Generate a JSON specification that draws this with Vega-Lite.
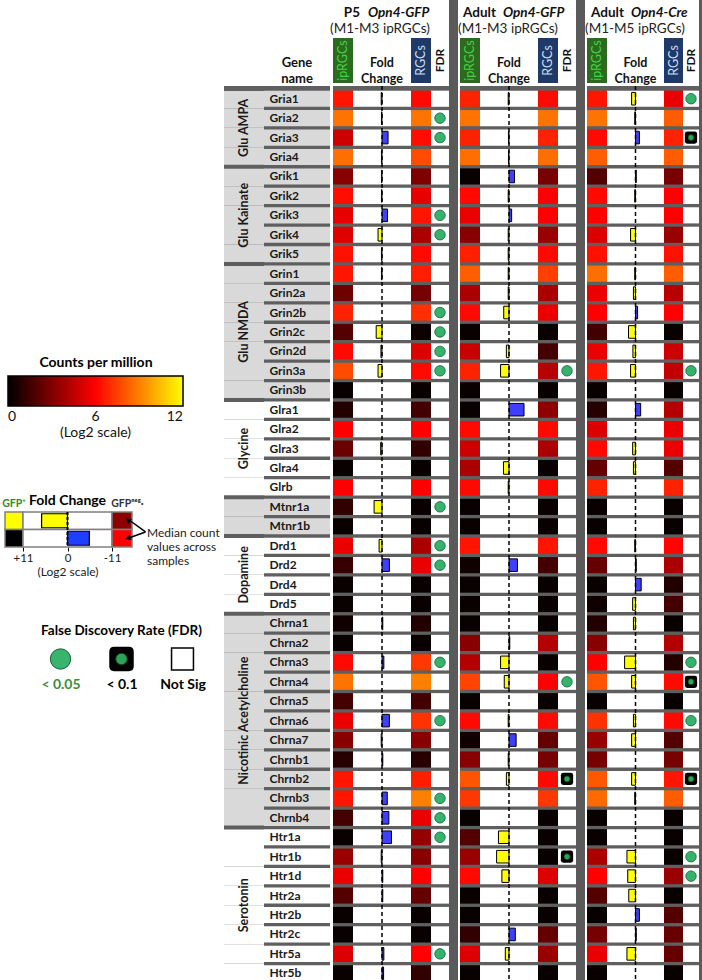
{
"$schema": "https://vega.github.io/schema/vega-lite/v6.json",
"padding": 0,
"background": "white",
"spacing": 0,
"config": {"font": "Lato", "view": {"stroke": null}, "title": {"color": "#000"}},
"datasets": {
"genes": [
{"gene":"Gria1","group":"Glu AMPA","p5ip":6.5,"p5fc":0.3,"p5rgc":6.2,"p5fdr":"NS","gip":6.8,"gfc":0.3,"grgc":6.2,"gfdr":"NS","cip":6.5,"cfc":1.5,"crgc":5.5,"cfdr":"<0.05"},
{"gene":"Gria2","group":"Glu AMPA","p5ip":8.7,"p5fc":0.2,"p5rgc":8.7,"p5fdr":"<0.05","gip":8.7,"gfc":0,"grgc":8.7,"gfdr":"NS","cip":8.7,"cfc":0.3,"crgc":8.2,"cfdr":"NS"},
{"gene":"Gria3","group":"Glu AMPA","p5ip":4.8,"p5fc":-2.3,"p5rgc":6.3,"p5fdr":"<0.05","gip":6.8,"gfc":0.2,"grgc":6.8,"gfdr":"NS","cip":6.2,"cfc":-1.5,"crgc":6.8,"cfdr":"<0.1"},
{"gene":"Gria4","group":"Glu AMPA","p5ip":8.6,"p5fc":0.2,"p5rgc":7.8,"p5fdr":"NS","gip":8.6,"gfc":0.2,"grgc":8.6,"gfdr":"NS","cip":8.2,"cfc":0,"crgc":8.2,"cfdr":"NS"},
{"gene":"Grik1","group":"Glu Kainate","p5ip":3.2,"p5fc":0.2,"p5rgc":3.0,"p5fdr":"NS","gip":0.2,"gfc":-2.1,"grgc":2.8,"gfdr":"NS","cip":2.0,"cfc":-0.3,"crgc":2.8,"cfdr":"NS"},
{"gene":"Grik2","group":"Glu Kainate","p5ip":6.3,"p5fc":0.2,"p5rgc":5.4,"p5fdr":"NS","gip":6.2,"gfc":0.3,"grgc":6.0,"gfdr":"NS","cip":6.2,"cfc":0.3,"crgc":6.0,"cfdr":"NS"},
{"gene":"Grik3","group":"Glu Kainate","p5ip":5.4,"p5fc":-2.1,"p5rgc":6.5,"p5fdr":"<0.05","gip":5.5,"gfc":-1.0,"grgc":6.0,"gfdr":"NS","cip":6.0,"cfc":0,"crgc":6.0,"cfdr":"NS"},
{"gene":"Grik4","group":"Glu Kainate","p5ip":5.3,"p5fc":1.5,"p5rgc":4.0,"p5fdr":"<0.05","gip":3.2,"gfc":0.3,"grgc":3.6,"gfdr":"NS","cip":5.2,"cfc":1.9,"crgc":3.6,"cfdr":"NS"},
{"gene":"Grik5","group":"Glu Kainate","p5ip":6.4,"p5fc":0.2,"p5rgc":6.2,"p5fdr":"NS","gip":6.7,"gfc":0.3,"grgc":6.2,"gfdr":"NS","cip":6.4,"cfc":0,"crgc":6.4,"cfdr":"NS"},
{"gene":"Grin1","group":"Glu NMDA","p5ip":6.5,"p5fc":0.2,"p5rgc":6.7,"p5fdr":"NS","gip":8.2,"gfc":0.3,"grgc":7.5,"gfdr":"NS","cip":8.6,"cfc":0.3,"crgc":8.2,"cfdr":"NS"},
{"gene":"Grin2a","group":"Glu NMDA","p5ip":2.6,"p5fc":0,"p5rgc":2.8,"p5fdr":"NS","gip":4.0,"gfc":0.3,"grgc":4.0,"gfdr":"NS","cip":5.5,"cfc":0.8,"crgc":4.3,"cfdr":"NS"},
{"gene":"Grin2b","group":"Glu NMDA","p5ip":6.8,"p5fc":0,"p5rgc":7.1,"p5fdr":"<0.05","gip":6.2,"gfc":2.0,"grgc":5.5,"gfdr":"NS","cip":6.0,"cfc":-0.8,"crgc":6.0,"cfdr":"NS"},
{"gene":"Grin2c","group":"Glu NMDA","p5ip":2.0,"p5fc":2.2,"p5rgc":0.3,"p5fdr":"<0.05","gip":0.2,"gfc":0,"grgc":0.2,"gfdr":"NS","cip":1.6,"cfc":2.7,"crgc":0.2,"cfdr":"NS"},
{"gene":"Grin2d","group":"Glu NMDA","p5ip":6.2,"p5fc":0.4,"p5rgc":5.2,"p5fdr":"<0.05","gip":4.7,"gfc":1.0,"grgc":1.6,"gfdr":"NS","cip":5.5,"cfc":1.0,"crgc":4.8,"cfdr":"NS"},
{"gene":"Grin3a","group":"Glu NMDA","p5ip":7.8,"p5fc":1.5,"p5rgc":6.2,"p5fdr":"<0.05","gip":6.8,"gfc":3.2,"grgc":4.3,"gfdr":"<0.05","cip":6.5,"cfc":1.9,"crgc":4.6,"cfdr":"<0.05"},
{"gene":"Grin3b","group":"Glu NMDA","p5ip":0.2,"p5fc":0,"p5rgc":0.2,"p5fdr":"NS","gip":0.2,"gfc":0,"grgc":0.2,"gfdr":"NS","cip":0.2,"cfc":0,"crgc":0.2,"cfdr":"NS"},
{"gene":"Glra1","group":"Glycine","p5ip":0.8,"p5fc":0,"p5rgc":1.6,"p5fdr":"NS","gip":0.2,"gfc":-5.7,"grgc":3.3,"gfdr":"NS","cip":0.9,"cfc":-2.0,"crgc":4.2,"cfdr":"NS"},
{"gene":"Glra2","group":"Glycine","p5ip":6.0,"p5fc":0,"p5rgc":6.0,"p5fdr":"NS","gip":6.2,"gfc":0,"grgc":6.2,"gfdr":"NS","cip":5.2,"cfc":0,"crgc":5.5,"cfdr":"NS"},
{"gene":"Glra3","group":"Glycine","p5ip":2.5,"p5fc":0.5,"p5rgc":1.2,"p5fdr":"NS","gip":4.8,"gfc":0,"grgc":4.0,"gfdr":"NS","cip":6.2,"cfc":1.1,"crgc":5.5,"cfdr":"NS"},
{"gene":"Glra4","group":"Glycine","p5ip":0.2,"p5fc":0,"p5rgc":0.2,"p5fdr":"NS","gip":4.0,"gfc":2.1,"grgc":0.2,"gfdr":"NS","cip":2.4,"cfc":0.8,"crgc":2.0,"cfdr":"NS"},
{"gene":"Glrb","group":"Glycine","p5ip":6.0,"p5fc":0,"p5rgc":6.0,"p5fdr":"NS","gip":6.2,"gfc":0.3,"grgc":6.2,"gfdr":"NS","cip":6.8,"cfc":0,"crgc":6.8,"cfdr":"NS"},
{"gene":"Mtnr1a","group":"","p5ip":1.2,"p5fc":3.0,"p5rgc":0.2,"p5fdr":"<0.05","gip":0.2,"gfc":0,"grgc":0.2,"gfdr":"NS","cip":0.2,"cfc":0,"crgc":0.2,"cfdr":"NS"},
{"gene":"Mtnr1b","group":"","p5ip":0.2,"p5fc":0,"p5rgc":0.2,"p5fdr":"NS","gip":0.2,"gfc":0,"grgc":0.2,"gfdr":"NS","cip":0.2,"cfc":0,"crgc":0.2,"cfdr":"NS"},
{"gene":"Drd1","group":"Dopamine","p5ip":5.5,"p5fc":1.1,"p5rgc":4.0,"p5fdr":"<0.05","gip":6.5,"gfc":0,"grgc":6.5,"gfdr":"NS","cip":6.2,"cfc":0.3,"crgc":6.1,"cfdr":"NS"},
{"gene":"Drd2","group":"Dopamine","p5ip":1.3,"p5fc":-2.8,"p5rgc":5.5,"p5fdr":"<0.05","gip":0.4,"gfc":-3.2,"grgc":1.6,"gfdr":"NS","cip":2.4,"cfc":-0.3,"crgc":4.0,"cfdr":"NS"},
{"gene":"Drd4","group":"Dopamine","p5ip":0.2,"p5fc":0,"p5rgc":0.2,"p5fdr":"NS","gip":0.2,"gfc":0,"grgc":0.2,"gfdr":"NS","cip":0.2,"cfc":-2.2,"crgc":0.8,"cfdr":"NS"},
{"gene":"Drd5","group":"Dopamine","p5ip":0.2,"p5fc":0,"p5rgc":0.2,"p5fdr":"NS","gip":0.2,"gfc":0,"grgc":0.2,"gfdr":"NS","cip":0.4,"cfc":1.1,"crgc":1.6,"cfdr":"NS"},
{"gene":"Chrna1","group":"Nicotinic Acetylcholine","p5ip":0.4,"p5fc":-0.3,"p5rgc":0.8,"p5fdr":"NS","gip":0.2,"gfc":0,"grgc":0.2,"gfdr":"NS","cip":0.8,"cfc":0.8,"crgc":0.2,"cfdr":"NS"},
{"gene":"Chrna2","group":"Nicotinic Acetylcholine","p5ip":0.2,"p5fc":0,"p5rgc":0.2,"p5fdr":"NS","gip":3.2,"gfc":-0.3,"grgc":4.2,"gfdr":"NS","cip":3.2,"cfc":0,"crgc":4.2,"cfdr":"NS"},
{"gene":"Chrna3","group":"Nicotinic Acetylcholine","p5ip":6.2,"p5fc":-0.7,"p5rgc":7.3,"p5fdr":"<0.05","gip":4.2,"gfc":3.2,"grgc":0.2,"gfdr":"NS","cip":6.0,"cfc":4.2,"crgc":0.8,"cfdr":"<0.05"},
{"gene":"Chrna4","group":"Nicotinic Acetylcholine","p5ip":8.7,"p5fc":0,"p5rgc":9.0,"p5fdr":"NS","gip":7.6,"gfc":1.8,"grgc":6.0,"gfdr":"<0.05","cip":8.0,"cfc":1.5,"crgc":6.2,"cfdr":"<0.1"},
{"gene":"Chrna5","group":"Nicotinic Acetylcholine","p5ip":1.6,"p5fc":0,"p5rgc":1.6,"p5fdr":"NS","gip":0.2,"gfc":0,"grgc":0.2,"gfdr":"NS","cip":0.2,"cfc":0,"crgc":0.2,"cfdr":"NS"},
{"gene":"Chrna6","group":"Nicotinic Acetylcholine","p5ip":5.5,"p5fc":-2.8,"p5rgc":7.2,"p5fdr":"<0.05","gip":6.2,"gfc":0.3,"grgc":6.2,"gfdr":"NS","cip":7.2,"cfc":0.8,"crgc":6.2,"cfdr":"<0.05"},
{"gene":"Chrna7","group":"Nicotinic Acetylcholine","p5ip":3.2,"p5fc":0.3,"p5rgc":3.2,"p5fdr":"NS","gip":0.4,"gfc":-2.7,"grgc":2.4,"gfdr":"NS","cip":3.6,"cfc":1.5,"crgc":2.0,"cfdr":"NS"},
{"gene":"Chrnb1","group":"Nicotinic Acetylcholine","p5ip":0.9,"p5fc":-0.3,"p5rgc":0.9,"p5fdr":"NS","gip":3.2,"gfc":0.3,"grgc":2.8,"gfdr":"NS","cip":2.8,"cfc":0,"crgc":2.8,"cfdr":"NS"},
{"gene":"Chrnb2","group":"Nicotinic Acetylcholine","p5ip":6.5,"p5fc":0,"p5rgc":6.7,"p5fdr":"NS","gip":8.0,"gfc":1.0,"grgc":6.2,"gfdr":"<0.1","cip":8.1,"cfc":1.5,"crgc":6.5,"cfdr":"<0.1"},
{"gene":"Chrnb3","group":"Nicotinic Acetylcholine","p5ip":6.5,"p5fc":-2.0,"p5rgc":9.0,"p5fdr":"<0.05","gip":7.3,"gfc":0,"grgc":7.3,"gfdr":"NS","cip":8.5,"cfc":0.3,"crgc":8.2,"cfdr":"NS"},
{"gene":"Chrnb4","group":"Nicotinic Acetylcholine","p5ip":1.6,"p5fc":-2.6,"p5rgc":5.5,"p5fdr":"<0.05","gip":0.2,"gfc":0,"grgc":0.2,"gfdr":"NS","cip":0.2,"cfc":0,"crgc":0.2,"cfdr":"NS"},
{"gene":"Htr1a","group":"Serotonin","p5ip":0.2,"p5fc":-3.6,"p5rgc":3.5,"p5fdr":"<0.05","gip":2.0,"gfc":4.0,"grgc":0.2,"gfdr":"NS","cip":0.2,"cfc":0,"crgc":0.2,"cfdr":"NS"},
{"gene":"Htr1b","group":"Serotonin","p5ip":3.6,"p5fc":0.3,"p5rgc":3.2,"p5fdr":"NS","gip":3.6,"gfc":4.7,"grgc":0.2,"gfdr":"<0.1","cip":4.0,"cfc":3.3,"crgc":0.2,"cfdr":"<0.05"},
{"gene":"Htr1d","group":"Serotonin","p5ip":5.5,"p5fc":-0.3,"p5rgc":6.0,"p5fdr":"NS","gip":6.2,"gfc":2.7,"grgc":5.2,"gfdr":"NS","cip":6.0,"cfc":3.0,"crgc":3.6,"cfdr":"<0.05"},
{"gene":"Htr2a","group":"Serotonin","p5ip":2.0,"p5fc":-0.3,"p5rgc":2.4,"p5fdr":"NS","gip":0.2,"gfc":0,"grgc":0.2,"gfdr":"NS","cip":2.0,"cfc":2.6,"crgc":0.2,"cfdr":"NS"},
{"gene":"Htr2b","group":"Serotonin","p5ip":0.2,"p5fc":0,"p5rgc":0.2,"p5fdr":"NS","gip":0.2,"gfc":0,"grgc":0.2,"gfdr":"NS","cip":0.2,"cfc":-1.5,"crgc":2.0,"cfdr":"NS"},
{"gene":"Htr2c","group":"Serotonin","p5ip":0.2,"p5fc":0,"p5rgc":0.2,"p5fdr":"NS","gip":1.2,"gfc":-2.4,"grgc":2.4,"gfdr":"NS","cip":2.8,"cfc":-0.3,"crgc":2.4,"cfdr":"NS"},
{"gene":"Htr5a","group":"Serotonin","p5ip":5.2,"p5fc":-0.7,"p5rgc":6.0,"p5fdr":"<0.05","gip":5.2,"gfc":1.4,"grgc":3.6,"gfdr":"NS","cip":5.5,"cfc":3.3,"crgc":2.4,"cfdr":"NS"},
{"gene":"Htr5b","group":"Serotonin","p5ip":0.2,"p5fc":-0.6,"p5rgc":1.2,"p5fdr":"NS","gip":0.2,"gfc":0,"grgc":0.2,"gfdr":"NS","cip":0.2,"cfc":0,"crgc":0.2,"cfdr":"NS"}
],
"flg": [{"row":"a","ip":12,"fc":6.4,"rgc":3.3},{"row":"b","ip":0,"fc":-5.4,"rgc":6}]
},
"hconcat": [
{"vconcat": [
  {"width": 222, "height": 494, "data": {"values": []}, "mark": "point"},
  {"hconcat": [
    {"width": 5, "height": 35, "data": {"values": []}, "mark": "point"},
    {"width": 18, "height": 35, "data": {"name": "flg"},
     "title": {"text": "GFP⁺", "fontSize": 10.5, "fontWeight": "bold", "color": "#2e8b2e", "offset": 2},
     "mark": {"type": "rect", "stroke": "#808080", "strokeWidth": 1.5},
     "encoding": {"y": {"field": "row", "type": "nominal", "sort": null, "axis": null, "scale": {"paddingInner": 0, "paddingOuter": 0}},
       "color": {"field": "ip", "type": "quantitative", "scale": {"domain": [0, 6, 12], "range": ["#000000", "#ff0000", "#ffff00"], "interpolate": "rgb"}}}},
    {"width": 89, "height": 35, "data": {"name": "flg"},
     "title": {"text": "Fold Change", "fontSize": 14, "fontWeight": "bold", "offset": 3},
     "layer": [
       {"mark": {"type": "rect", "color": "#ffffff", "stroke": "#808080", "strokeWidth": 1.5},
        "encoding": {"y": {"field": "row", "type": "nominal", "sort": null, "axis": null, "scale": {"paddingInner": 0, "paddingOuter": 0}}}},
       {"mark": {"type": "bar", "stroke": "#000", "strokeWidth": 1.2, "height": {"band": 0.8}},
        "encoding": {"y": {"field": "row", "type": "nominal", "sort": null, "axis": null},
          "x": {"field": "fc", "type": "quantitative", "scale": {"domain": [-11, 11], "reverse": true, "nice": false},
            "axis": {"orient": "bottom", "values": [11, 5, 0, -5, -11], "labelExpr": "datum.value > 0 ? '+' + datum.value : '' + datum.value", "labelFlush": false, "labelFontSize": 11.5, "labelColor": "#222", "labelPadding": 1, "domain": false, "grid": false, "tickColor": "#000", "tickSize": 4, "minExtent": 0, "title": "(Log2 scale)", "titleFontSize": 12, "titleFontWeight": "normal", "titleColor": "#222", "titlePadding": 3}},
          "fill": {"condition": {"test": "datum.fc > 0", "value": "#ffff00"}, "value": "#1f3fff"}}},
       {"data": {"values": [{}]}, "mark": {"type": "rule", "strokeDash": [3, 2], "strokeWidth": 2, "color": "#000"}, "encoding": {"x": {"datum": 0}}}
     ]},
    {"width": 20, "height": 35, "data": {"name": "flg"},
     "title": {"text": "GFPⁿᵉᵍ·", "fontSize": 10.5, "fontWeight": "bold", "color": "#333", "offset": 2, "anchor": "start"},
     "mark": {"type": "rect", "stroke": "#808080", "strokeWidth": 1.5},
     "encoding": {"y": {"field": "row", "type": "nominal", "sort": null, "axis": null, "scale": {"paddingInner": 0, "paddingOuter": 0}},
       "color": {"field": "rgc", "type": "quantitative", "scale": {"domain": [0, 6, 12], "range": ["#000000", "#ff0000", "#ffff00"], "interpolate": "rgb"}}}},
    {"width": 90, "height": 35, "data": {"values": [{"note": "Median count\nvalues across\nsamples"}]},
     "layer": [
       {"mark": {"type": "text", "align": "left", "baseline": "middle", "lineBreak": "\n", "fontSize": 12, "lineHeight": 14, "color": "#222"},
        "encoding": {"text": {"field": "note"}, "x": {"datum": 0.167, "scale": {"domain": [0, 1]}, "axis": null}, "y": {"datum": 0.6, "scale": {"domain": [0, 1], "reverse": true}, "axis": null}}},
       {"mark": {"type": "rule", "strokeWidth": 1.5, "color": "#000"}, "encoding": {"x": {"datum": 0.15}, "y": {"datum": 0.57}, "x2": {"datum": -0.02}, "y2": {"datum": 0.25}}},
       {"mark": {"type": "rule", "strokeWidth": 1.5, "color": "#000"}, "encoding": {"x": {"datum": 0.15}, "y": {"datum": 0.57}, "x2": {"datum": -0.02}, "y2": {"datum": 0.73}}},
       {"mark": {"type": "point", "shape": "triangle-left", "filled": true, "color": "#000", "opacity": 1, "size": 40, "angle": 35}, "encoding": {"x": {"datum": -0.044}, "y": {"datum": 0.229}}},
       {"mark": {"type": "point", "shape": "triangle-left", "filled": true, "color": "#000", "opacity": 1, "size": 40, "angle": -19}, "encoding": {"x": {"datum": -0.044}, "y": {"datum": 0.743}}}
     ]}
  ], "spacing": 0, "bounds": "flush"},
  {"width": 222, "height": 45, "data": {"values": []}, "mark": "point"},
  {"hconcat": [
    {"width": 30, "height": 30, "data": {"values": []}, "mark": "point"},
    {"width": 183, "height": 30,
     "data": {"values": [{"s": "< 0.05"}, {"s": "< 0.1"}, {"s": "Not Sig"}]},
     "title": {"text": "False Discovery Rate (FDR)", "fontSize": 13.5, "fontWeight": "bold", "offset": 7},
     "layer": [
       {"mark": {"type": "point", "shape": "square", "filled": true, "fill": "#ffffff", "stroke": "#000", "strokeWidth": 1.5, "size": 480},
        "encoding": {"x": {"field": "s", "type": "nominal", "sort": null, "scale": {"type": "point", "padding": 0.5},
           "axis": {"orient": "bottom", "title": null, "domain": false, "ticks": false, "labelAngle": 0, "labelFontSize": 14, "labelFontWeight": "bold", "labelPadding": 3, "minExtent": 0,
             "labelColor": {"condition": {"test": "datum.value == '< 0.05'", "value": "#3a8f3a"}, "value": "#000"}}},
          "opacity": {"condition": {"test": "datum.s == 'Not Sig'", "value": 1}, "value": 0}}},
       {"mark": {"type": "point", "shape": "M -1 -0.6 Q -1 -1 -0.6 -1 L 0.6 -1 Q 1 -1 1 -0.6 L 1 0.6 Q 1 1 0.6 1 L -0.6 1 Q -1 1 -1 0.6 Z", "filled": true, "color": "#000", "size": 600},
        "encoding": {"x": {"field": "s", "type": "nominal", "sort": null}, "opacity": {"condition": {"test": "datum.s == '< 0.1'", "value": 1}, "value": 0}}},
       {"mark": {"type": "circle", "strokeWidth": 1},
        "encoding": {"x": {"field": "s", "type": "nominal", "sort": null},
          "size": {"condition": {"test": "datum.s == '< 0.05'", "value": 415}, "value": 135},
          "fill": {"condition": {"test": "datum.s == '< 0.05'", "value": "#38b56c"}, "value": "#2aa455"},
          "stroke": {"condition": {"test": "datum.s == '< 0.05'", "value": "#1d5e37"}, "value": "#0c3d1f"},
          "opacity": {"condition": {"test": "datum.s == 'Not Sig'", "value": 0}, "value": 1}}}
     ]}
  ], "spacing": 0, "bounds": "flush"}
], "spacing": 0},
{"vconcat": [
  {"width": 106, "height": 38, "data": {"values": []}, "mark": "point"},
  {"hconcat": [
    {"width": 40, "height": 45, "data": {"values": []}, "mark": "point"},
    {"width": 66, "height": 45, "data": {"values": [{"h": "Gene\nname"}]},
     "mark": {"type": "text", "lineBreak": "\n", "fontWeight": "bold", "fontSize": 13, "lineHeight": 16, "baseline": "middle", "dy": 2, "color": "#111"},
     "encoding": {"text": {"field": "h"}}}
  ], "spacing": 0, "bounds": "flush"},
  {"hconcat": [
    {"width": 40, "height": 897, "data": {"name": "genes"},
     "view": {"fill": "#5f5f5f", "stroke": null},
     "transform": [
       {"window": [{"op": "row_number", "as": "k"}], "groupby": ["group"]},
       {"joinaggregate": [{"op": "count", "as": "n"}], "groupby": ["group"]}
     ],
     "layer": [
       {"mark": {"type": "rect"},
        "encoding": {"y": {"field": "gene", "type": "nominal", "axis": null, "scale": {"domain": ["Gria1","Gria2","Gria3","Gria4","Grik1","Grik2","Grik3","Grik4","Grik5","Grin1","Grin2a","Grin2b","Grin2c","Grin2d","Grin3a","Grin3b","Glra1","Glra2","Glra3","Glra4","Glrb","Mtnr1a","Mtnr1b","Drd1","Drd2","Drd4","Drd5","Chrna1","Chrna2","Chrna3","Chrna4","Chrna5","Chrna6","Chrna7","Chrnb1","Chrnb2","Chrnb3","Chrnb4","Htr1a","Htr1b","Htr1d","Htr2a","Htr2b","Htr2c","Htr5a","Htr5b"], "paddingInner": 0, "paddingOuter": 0.077, "align": 1}},
          "fill": {"field": "group", "type": "nominal", "legend": null, "scale": {"domain": ["Glu AMPA","Glu Kainate","Glu NMDA","Glycine","","Dopamine","Nicotinic Acetylcholine","Serotonin"], "range": ["#d9d9d9","#d9d9d9","#d9d9d9","#ffffff","#d9d9d9","#ffffff","#d9d9d9","#ffffff"]}}}},
       {"transform": [{"filter": "datum.k == 1"}],
        "mark": {"type": "rule", "color": "#5f5f5f", "strokeWidth": 4},
        "encoding": {"y": {"field": "gene", "type": "nominal", "bandPosition": 0}}},
       {"transform": [{"filter": "datum.group != '' && datum.n % 2 == 1 && datum.k == (datum.n + 1) / 2"}],
        "mark": {"type": "text", "angle": 270, "fontWeight": "bold", "fontSize": 12.5, "color": "#1a1a1a"},
        "encoding": {"y": {"field": "gene", "type": "nominal"}, "text": {"field": "group"}}},
       {"transform": [{"filter": "datum.group != '' && datum.n % 2 == 0 && datum.k == datum.n / 2"}],
        "mark": {"type": "text", "angle": 270, "fontWeight": "bold", "fontSize": 12.5, "color": "#1a1a1a"},
        "encoding": {"y": {"field": "gene", "type": "nominal", "bandPosition": 1}, "text": {"field": "group"}}}
     ]},
    {"width": 66, "height": 897, "data": {"name": "genes"},
     "view": {"fill": "#5f5f5f", "stroke": null},
     "mark": {"type": "rect"},
     "encoding": {
       "y": {"field": "gene", "type": "nominal", "sort": null, "scale": {"paddingInner": 0.17, "paddingOuter": 0.162, "align": 0.74},
         "axis": {"orient": "left", "title": null, "domain": false, "ticks": false, "tickSize": 0, "minExtent": 0, "labelAlign": "left", "labelBaseline": "middle", "labelPadding": -5, "labelFontSize": 12, "labelFontWeight": "bold", "labelColor": "#1a1a1a", "zindex": 1}},
       "fill": {"field": "group", "type": "nominal", "legend": null, "scale": {"domain": ["Glu AMPA","Glu Kainate","Glu NMDA","Glycine","","Dopamine","Nicotinic Acetylcholine","Serotonin"], "range": ["#d9d9d9","#d9d9d9","#d9d9d9","#ffffff","#d9d9d9","#ffffff","#d9d9d9","#ffffff"]}}}}
  ], "spacing": 0, "bounds": "flush"}
], "spacing": 0},
{"hconcat": [
  {"vconcat": [
    {"width": 116, "height": 38, "data": {"values": [{"stage": "P5", "line": "Opn4-GFP", "cells": "(M1-M3 ipRGCs)"}]},
     "layer": [
       {"mark": {"type": "text", "align": "right", "dx": -31, "dy": -6, "fontSize": 13.5, "fontWeight": "bold", "color": "#111"}, "encoding": {"text": {"field": "stage"}}},
       {"mark": {"type": "text", "align": "left", "dx": -23, "dy": -6, "fontSize": 13.5, "fontWeight": "bold", "fontStyle": "italic", "color": "#111"}, "encoding": {"text": {"field": "line"}}},
       {"mark": {"type": "text", "dx": -11, "dy": 10, "fontSize": 13.5, "color": "#222"}, "encoding": {"text": {"field": "cells"}}}
     ]},
    {"hconcat": [
      {"width": 20, "height": 45, "data": {"values": [{"h": "ipRGCs"}]}, "layer": [
        {"mark": {"type": "rect", "color": "#2b6a1f"}, "encoding": {}},
        {"mark": {"type": "text", "angle": 270, "color": "#45d145", "fontSize": 12.5}, "encoding": {"text": {"field": "h"}}}]},
      {"width": 58, "height": 45, "data": {"values": [{"h": "Fold\nChange"}]},
       "mark": {"type": "text", "lineBreak": "\n", "fontWeight": "bold", "fontSize": 12.5, "lineHeight": 16, "dy": 2, "color": "#111"}, "encoding": {"text": {"field": "h"}}},
      {"width": 20, "height": 45, "data": {"values": [{"h": "RGCs"}]}, "layer": [
        {"mark": {"type": "rect", "color": "#1f3a68"}, "encoding": {}},
        {"mark": {"type": "text", "angle": 270, "color": "#c6daf2", "fontSize": 12.5}, "encoding": {"text": {"field": "h"}}}]},
      {"width": 18, "height": 45, "data": {"values": [{"h": "FDR"}]},
       "mark": {"type": "text", "angle": 270, "fontWeight": "bold", "fontSize": 12, "color": "#111"}, "encoding": {"text": {"field": "h"}}}
    ], "spacing": 0, "bounds": "flush"},
    {"hconcat": [
      {"width": 20, "height": 897, "data": {"name": "genes"}, "view": {"fill": "#5f5f5f", "stroke": null},
       "mark": {"type": "rect"},
       "encoding": {"y": {"field": "gene", "type": "nominal", "sort": null, "axis": null, "scale": {"paddingInner": 0.17, "paddingOuter": 0.162, "align": 0.74}},
         "color": {"field": "p5ip", "type": "quantitative", "scale": {"domain": [0, 6, 12], "range": ["#000000", "#ff0000", "#ffff00"], "interpolate": "rgb"},
           "legend": {"title": "Counts per million", "orient": "none", "legendX": 8, "legendY": 356, "direction": "horizontal", "gradientLength": 175, "gradientThickness": 30, "gradientStrokeColor": "#000", "gradientStrokeWidth": 1.5, "values": [0, 6, 12], "labelExpr": "datum.value == 6 ? ['6', '(Log2 scale)'] : datum.label", "labelFontSize": 14, "labelColor": "#111", "labelOffset": 4, "titleFontSize": 14, "titleFontWeight": "bold", "titleColor": "#000", "titleAnchor": "middle", "titlePadding": 6, "titleLimit": 300}}}},
      {"width": 58, "height": 897, "data": {"name": "genes"}, "view": {"fill": "#5f5f5f", "stroke": null},
       "layer": [
         {"mark": {"type": "rect", "color": "#ffffff"}, "encoding": {"y": {"field": "gene", "type": "nominal", "sort": null, "axis": null, "scale": {"paddingInner": 0.17, "paddingOuter": 0.162, "align": 0.74}}}},
         {"mark": {"type": "bar", "stroke": "#000", "strokeWidth": 1, "height": {"band": 0.78}},
          "encoding": {"y": {"field": "gene", "type": "nominal", "sort": null, "axis": null},
            "x": {"field": "p5fc", "type": "quantitative", "scale": {"domain": [-11, 11], "reverse": true, "nice": false}, "axis": null},
            "fill": {"condition": {"test": "datum.p5fc > 0", "value": "#ffff00"}, "value": "#3f3fff"},
            "strokeOpacity": {"condition": {"test": "datum.p5fc == 0", "value": 0}, "value": 1}}},
         {"data": {"values": [{}]}, "mark": {"type": "rule", "strokeDash": [4, 3], "strokeWidth": 1.5, "color": "#000"}, "encoding": {"x": {"datum": 0}}}
       ]},
      {"width": 20, "height": 897, "data": {"name": "genes"}, "view": {"fill": "#5f5f5f", "stroke": null},
       "mark": {"type": "rect"},
       "encoding": {"y": {"field": "gene", "type": "nominal", "sort": null, "axis": null, "scale": {"paddingInner": 0.17, "paddingOuter": 0.162, "align": 0.74}},
         "color": {"field": "p5rgc", "type": "quantitative", "scale": {"domain": [0, 6, 12], "range": ["#000000", "#ff0000", "#ffff00"], "interpolate": "rgb"}}}},
      {"width": 18, "height": 897, "data": {"name": "genes"}, "view": {"fill": "#5f5f5f", "stroke": null},
       "encoding": {"y": {"field": "gene", "type": "nominal", "sort": null, "axis": null, "scale": {"paddingInner": 0.17, "paddingOuter": 0.162, "align": 0.74}}},
       "layer": [
         {"mark": {"type": "rect", "color": "#ffffff"}},
         {"mark": {"type": "point", "shape": "M -1 -0.6 Q -1 -1 -0.6 -1 L 0.6 -1 Q 1 -1 1 -0.6 L 1 0.6 Q 1 1 0.6 1 L -0.6 1 Q -1 1 -1 0.6 Z", "filled": true, "color": "#000", "size": 150},
          "encoding": {"opacity": {"condition": {"test": "datum.p5fdr == '<0.1'", "value": 1}, "value": 0}}},
         {"mark": {"type": "circle", "strokeWidth": 0.8},
          "encoding": {"size": {"condition": {"test": "datum.p5fdr == '<0.05'", "value": 110}, "value": 36},
            "fill": {"condition": {"test": "datum.p5fdr == '<0.05'", "value": "#33b36b"}, "value": "#2aa455"},
            "stroke": {"condition": {"test": "datum.p5fdr == '<0.05'", "value": "#1d5e37"}, "value": "#0c3d1f"},
            "opacity": {"condition": {"test": "datum.p5fdr == 'NS'", "value": 0}, "value": 1}}}
       ]}
    ], "spacing": 0, "bounds": "flush"}
  ], "spacing": 0},
  {"width": 9, "height": 980, "view": {"fill": "#5a5a5a", "stroke": null}, "data": {"values": []}, "mark": "point"},
  {"vconcat": [
    {"width": 116, "height": 38, "data": {"values": [{"stage": "Adult", "line": "Opn4-GFP", "cells": "(M1-M3 ipRGCs)"}]},
     "layer": [
       {"mark": {"type": "text", "align": "right", "dx": -22, "dy": -6, "fontSize": 13.5, "fontWeight": "bold", "color": "#111"}, "encoding": {"text": {"field": "stage"}}},
       {"mark": {"type": "text", "align": "left", "dx": -15, "dy": -6, "fontSize": 13.5, "fontWeight": "bold", "fontStyle": "italic", "color": "#111"}, "encoding": {"text": {"field": "line"}}},
       {"mark": {"type": "text", "dx": -10, "dy": 10, "fontSize": 13.5, "color": "#222"}, "encoding": {"text": {"field": "cells"}}}
     ]},
    {"hconcat": [
      {"width": 20, "height": 45, "data": {"values": [{"h": "ipRGCs"}]}, "layer": [
        {"mark": {"type": "rect", "color": "#2b6a1f"}, "encoding": {}},
        {"mark": {"type": "text", "angle": 270, "color": "#45d145", "fontSize": 12.5}, "encoding": {"text": {"field": "h"}}}]},
      {"width": 58, "height": 45, "data": {"values": [{"h": "Fold\nChange"}]},
       "mark": {"type": "text", "lineBreak": "\n", "fontWeight": "bold", "fontSize": 12.5, "lineHeight": 16, "dy": 2, "color": "#111"}, "encoding": {"text": {"field": "h"}}},
      {"width": 20, "height": 45, "data": {"values": [{"h": "RGCs"}]}, "layer": [
        {"mark": {"type": "rect", "color": "#1f3a68"}, "encoding": {}},
        {"mark": {"type": "text", "angle": 270, "color": "#c6daf2", "fontSize": 12.5}, "encoding": {"text": {"field": "h"}}}]},
      {"width": 18, "height": 45, "data": {"values": [{"h": "FDR"}]},
       "mark": {"type": "text", "angle": 270, "fontWeight": "bold", "fontSize": 12, "color": "#111"}, "encoding": {"text": {"field": "h"}}}
    ], "spacing": 0, "bounds": "flush"},
    {"hconcat": [
      {"width": 20, "height": 897, "data": {"name": "genes"}, "view": {"fill": "#5f5f5f", "stroke": null},
       "mark": {"type": "rect"},
       "encoding": {"y": {"field": "gene", "type": "nominal", "sort": null, "axis": null, "scale": {"paddingInner": 0.17, "paddingOuter": 0.162, "align": 0.74}},
         "color": {"field": "gip", "type": "quantitative", "scale": {"domain": [0, 6, 12], "range": ["#000000", "#ff0000", "#ffff00"], "interpolate": "rgb"}}}},
      {"width": 58, "height": 897, "data": {"name": "genes"}, "view": {"fill": "#5f5f5f", "stroke": null},
       "layer": [
         {"mark": {"type": "rect", "color": "#ffffff"}, "encoding": {"y": {"field": "gene", "type": "nominal", "sort": null, "axis": null, "scale": {"paddingInner": 0.17, "paddingOuter": 0.162, "align": 0.74}}}},
         {"mark": {"type": "bar", "stroke": "#000", "strokeWidth": 1, "height": {"band": 0.78}},
          "encoding": {"y": {"field": "gene", "type": "nominal", "sort": null, "axis": null},
            "x": {"field": "gfc", "type": "quantitative", "scale": {"domain": [-11, 11], "reverse": true, "nice": false}, "axis": null},
            "fill": {"condition": {"test": "datum.gfc > 0", "value": "#ffff00"}, "value": "#3f3fff"},
            "strokeOpacity": {"condition": {"test": "datum.gfc == 0", "value": 0}, "value": 1}}},
         {"data": {"values": [{}]}, "mark": {"type": "rule", "strokeDash": [4, 3], "strokeWidth": 1.5, "color": "#000"}, "encoding": {"x": {"datum": 0}}}
       ]},
      {"width": 20, "height": 897, "data": {"name": "genes"}, "view": {"fill": "#5f5f5f", "stroke": null},
       "mark": {"type": "rect"},
       "encoding": {"y": {"field": "gene", "type": "nominal", "sort": null, "axis": null, "scale": {"paddingInner": 0.17, "paddingOuter": 0.162, "align": 0.74}},
         "color": {"field": "grgc", "type": "quantitative", "scale": {"domain": [0, 6, 12], "range": ["#000000", "#ff0000", "#ffff00"], "interpolate": "rgb"}}}},
      {"width": 18, "height": 897, "data": {"name": "genes"}, "view": {"fill": "#5f5f5f", "stroke": null},
       "encoding": {"y": {"field": "gene", "type": "nominal", "sort": null, "axis": null, "scale": {"paddingInner": 0.17, "paddingOuter": 0.162, "align": 0.74}}},
       "layer": [
         {"mark": {"type": "rect", "color": "#ffffff"}},
         {"mark": {"type": "point", "shape": "M -1 -0.6 Q -1 -1 -0.6 -1 L 0.6 -1 Q 1 -1 1 -0.6 L 1 0.6 Q 1 1 0.6 1 L -0.6 1 Q -1 1 -1 0.6 Z", "filled": true, "color": "#000", "size": 150},
          "encoding": {"opacity": {"condition": {"test": "datum.gfdr == '<0.1'", "value": 1}, "value": 0}}},
         {"mark": {"type": "circle", "strokeWidth": 0.8},
          "encoding": {"size": {"condition": {"test": "datum.gfdr == '<0.05'", "value": 110}, "value": 36},
            "fill": {"condition": {"test": "datum.gfdr == '<0.05'", "value": "#33b36b"}, "value": "#2aa455"},
            "stroke": {"condition": {"test": "datum.gfdr == '<0.05'", "value": "#1d5e37"}, "value": "#0c3d1f"},
            "opacity": {"condition": {"test": "datum.gfdr == 'NS'", "value": 0}, "value": 1}}}
       ]}
    ], "spacing": 0, "bounds": "flush"}
  ], "spacing": 0},
  {"width": 9, "height": 980, "view": {"fill": "#5a5a5a", "stroke": null}, "data": {"values": []}, "mark": "point"},
  {"vconcat": [
    {"width": 112, "height": 38, "data": {"values": [{"stage": "Adult", "line": "Opn4-Cre", "cells": "(M1-M5 ipRGCs)"}]},
     "layer": [
       {"mark": {"type": "text", "align": "right", "dx": -19, "dy": -6, "fontSize": 13.5, "fontWeight": "bold", "color": "#111"}, "encoding": {"text": {"field": "stage"}}},
       {"mark": {"type": "text", "align": "left", "dx": -12, "dy": -6, "fontSize": 13.5, "fontWeight": "bold", "fontStyle": "italic", "color": "#111"}, "encoding": {"text": {"field": "line"}}},
       {"mark": {"type": "text", "dx": -8, "dy": 10, "fontSize": 13.5, "color": "#222"}, "encoding": {"text": {"field": "cells"}}}
     ]},
    {"hconcat": [
      {"width": 20, "height": 45, "data": {"values": [{"h": "ipRGCs"}]}, "layer": [
        {"mark": {"type": "rect", "color": "#2b6a1f"}, "encoding": {}},
        {"mark": {"type": "text", "angle": 270, "color": "#45d145", "fontSize": 12.5}, "encoding": {"text": {"field": "h"}}}]},
      {"width": 57, "height": 45, "data": {"values": [{"h": "Fold\nChange"}]},
       "mark": {"type": "text", "lineBreak": "\n", "fontWeight": "bold", "fontSize": 12.5, "lineHeight": 16, "dy": 2, "color": "#111"}, "encoding": {"text": {"field": "h"}}},
      {"width": 19, "height": 45, "data": {"values": [{"h": "RGCs"}]}, "layer": [
        {"mark": {"type": "rect", "color": "#1f3a68"}, "encoding": {}},
        {"mark": {"type": "text", "angle": 270, "color": "#c6daf2", "fontSize": 12.5}, "encoding": {"text": {"field": "h"}}}]},
      {"width": 16, "height": 45, "data": {"values": [{"h": "FDR"}]},
       "mark": {"type": "text", "angle": 270, "fontWeight": "bold", "fontSize": 12, "color": "#111"}, "encoding": {"text": {"field": "h"}}}
    ], "spacing": 0, "bounds": "flush"},
    {"hconcat": [
      {"width": 20, "height": 897, "data": {"name": "genes"}, "view": {"fill": "#5f5f5f", "stroke": null},
       "mark": {"type": "rect"},
       "encoding": {"y": {"field": "gene", "type": "nominal", "sort": null, "axis": null, "scale": {"paddingInner": 0.17, "paddingOuter": 0.162, "align": 0.74}},
         "color": {"field": "cip", "type": "quantitative", "scale": {"domain": [0, 6, 12], "range": ["#000000", "#ff0000", "#ffff00"], "interpolate": "rgb"}}}},
      {"width": 57, "height": 897, "data": {"name": "genes"}, "view": {"fill": "#5f5f5f", "stroke": null},
       "layer": [
         {"mark": {"type": "rect", "color": "#ffffff"}, "encoding": {"y": {"field": "gene", "type": "nominal", "sort": null, "axis": null, "scale": {"paddingInner": 0.17, "paddingOuter": 0.162, "align": 0.74}}}},
         {"mark": {"type": "bar", "stroke": "#000", "strokeWidth": 1, "height": {"band": 0.78}},
          "encoding": {"y": {"field": "gene", "type": "nominal", "sort": null, "axis": null},
            "x": {"field": "cfc", "type": "quantitative", "scale": {"domain": [-11, 11], "reverse": true, "nice": false}, "axis": null},
            "fill": {"condition": {"test": "datum.cfc > 0", "value": "#ffff00"}, "value": "#3f3fff"},
            "strokeOpacity": {"condition": {"test": "datum.cfc == 0", "value": 0}, "value": 1}}},
         {"data": {"values": [{}]}, "mark": {"type": "rule", "strokeDash": [4, 3], "strokeWidth": 1.5, "color": "#000"}, "encoding": {"x": {"datum": 0}}}
       ]},
      {"width": 19, "height": 897, "data": {"name": "genes"}, "view": {"fill": "#5f5f5f", "stroke": null},
       "mark": {"type": "rect"},
       "encoding": {"y": {"field": "gene", "type": "nominal", "sort": null, "axis": null, "scale": {"paddingInner": 0.17, "paddingOuter": 0.162, "align": 0.74}},
         "color": {"field": "crgc", "type": "quantitative", "scale": {"domain": [0, 6, 12], "range": ["#000000", "#ff0000", "#ffff00"], "interpolate": "rgb"}}}},
      {"width": 16, "height": 897, "data": {"name": "genes"}, "view": {"fill": "#5f5f5f", "stroke": null},
       "encoding": {"y": {"field": "gene", "type": "nominal", "sort": null, "axis": null, "scale": {"paddingInner": 0.17, "paddingOuter": 0.162, "align": 0.74}}},
       "layer": [
         {"mark": {"type": "rect", "color": "#ffffff"}},
         {"mark": {"type": "point", "shape": "M -1 -0.6 Q -1 -1 -0.6 -1 L 0.6 -1 Q 1 -1 1 -0.6 L 1 0.6 Q 1 1 0.6 1 L -0.6 1 Q -1 1 -1 0.6 Z", "filled": true, "color": "#000", "size": 150},
          "encoding": {"opacity": {"condition": {"test": "datum.cfdr == '<0.1'", "value": 1}, "value": 0}}},
         {"mark": {"type": "circle", "strokeWidth": 0.8},
          "encoding": {"size": {"condition": {"test": "datum.cfdr == '<0.05'", "value": 110}, "value": 36},
            "fill": {"condition": {"test": "datum.cfdr == '<0.05'", "value": "#33b36b"}, "value": "#2aa455"},
            "stroke": {"condition": {"test": "datum.cfdr == '<0.05'", "value": "#1d5e37"}, "value": "#0c3d1f"},
            "opacity": {"condition": {"test": "datum.cfdr == 'NS'", "value": 0}, "value": 1}}}
       ]}
    ], "spacing": 0, "bounds": "flush"}
  ], "spacing": 0},
  {"width": 10, "height": 980, "view": {"fill": "#5a5a5a", "stroke": null}, "data": {"values": []}, "mark": "point"}
], "spacing": 0}
]
}
